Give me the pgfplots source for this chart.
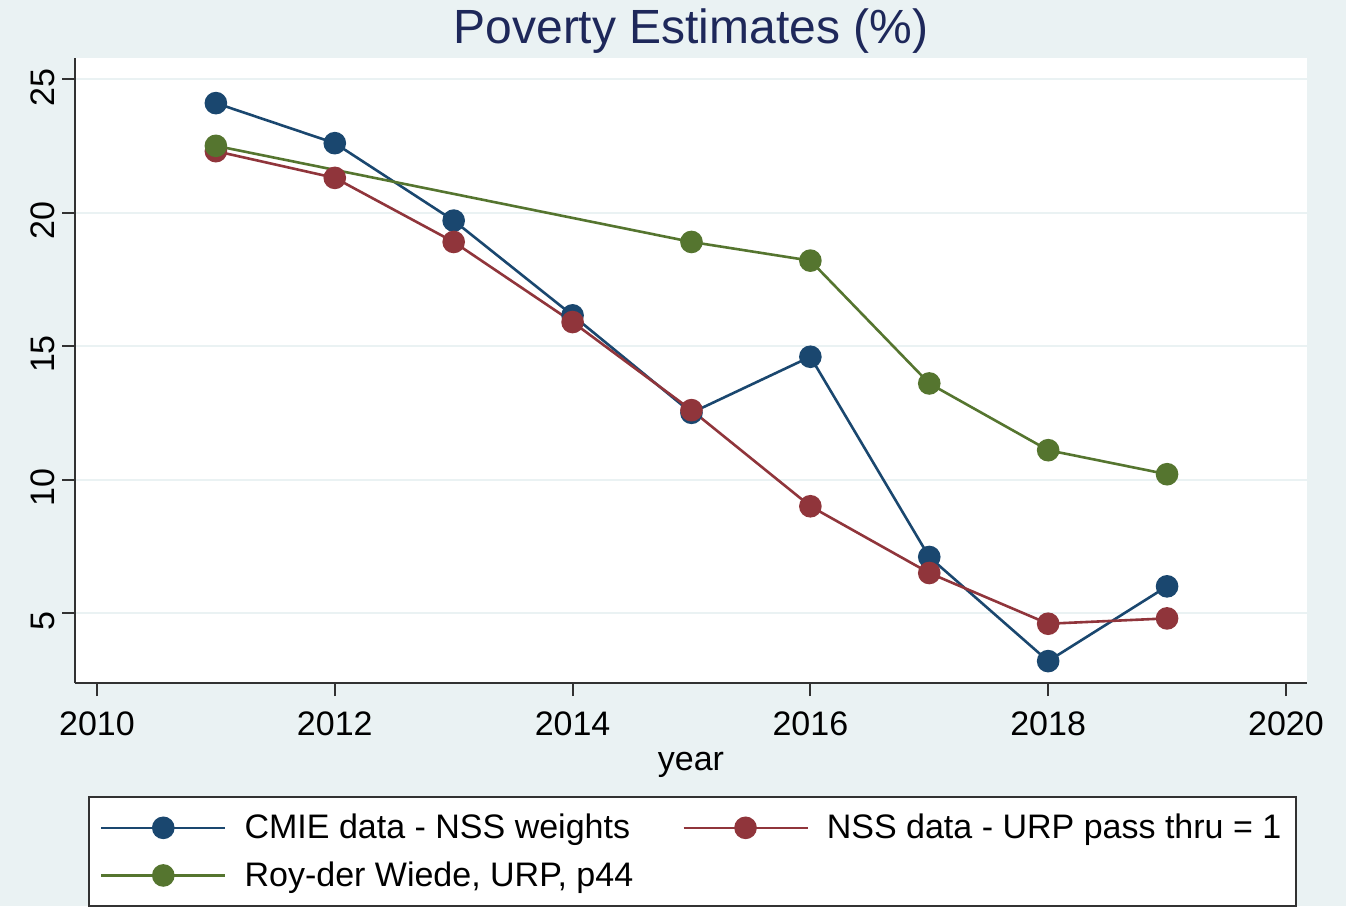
\documentclass[border=0pt]{standalone}
\usepackage{fontspec}
\setmainfont{Liberation Sans}
\usepackage{pgfplots}
\pgfplotsset{compat=1.18}

\definecolor{bgc}{RGB}{234,242,243}
\definecolor{stnavy}{RGB}{26,71,111}
\definecolor{stmaroon}{RGB}{144,53,59}
\definecolor{stgreen}{RGB}{85,117,47}
\definecolor{titlec}{RGB}{30,40,90}
\definecolor{axc}{RGB}{50,50,50}

\begin{document}
\begin{tikzpicture}
% page background (1px = 0.5pt)
\fill[bgc] (0pt,0pt) rectangle (673pt,-453pt);
\begin{axis}[
    at={(37.5pt,-341.5pt)}, anchor=south west,
    scale only axis,
    width=616pt, height=312.5pt,
    xmin=2009.815, xmax=2020.177,
    ymin=2.38, ymax=25.79,
    axis background/.style={fill=white},
    axis x line*=bottom, axis y line*=left,
    axis line style={axc, line width=1pt},
    xtick={2010,2012,...,2020},
    ytick={5,10,...,25},
    tick align=outside,
    major tick length=6.5pt,
    tick style={axc, line width=1pt},
    /pgf/number format/1000 sep={},
    /pgf/number format/assume math mode=true,
    ticklabel style={font=\fontsize{17}{20}\selectfont, black},
    yticklabel style={rotate=90, anchor=south, xshift=-4pt},
    xticklabel style={yshift=-4.5pt},
    ymajorgrids,
    grid style={bgc, line width=1pt},
    title={Poverty Estimates (\%)},
    title style={font=\fontsize{24}{28}\selectfont, color=titlec,
        at={(axis description cs:0.5,1)}, anchor=center, yshift=7.5pt},
    xlabel={year},
    xlabel style={font=\fontsize{17}{20}\selectfont, black,
        at={(axis description cs:0.5,0)}, anchor=center, yshift=-41pt},
    legend columns=2,
    legend cell align=left,
    legend image code/.code={
        \draw[mark repeat=2, mark phase=2, #1]
            plot coordinates {(0pt,0pt) (31pt,0pt) (62pt,0pt)};
    },
    legend style={
        at={(axis description cs:0.01055,-0.1808)}, anchor=north west,
        draw=axc, line width=1pt, fill=white,
        font=\fontsize{17}{20}\selectfont,
        inner xsep=5.5pt, inner ysep=6.5pt,
        row sep=6pt,
        /tikz/every odd column/.append style={column sep=7pt},
        /tikz/every even column/.append style={column sep=22.5pt},
    },
]
\addplot[stnavy, line width=1.3pt, mark=*, mark size=5pt,
    mark options={solid, fill=stnavy, draw=stnavy}] coordinates {
    (2011,24.1) (2012,22.6) (2013,19.7) (2014,16.15) (2015,12.5)
    (2016,14.6) (2017,7.1) (2018,3.2) (2019,6.0)
};
\addlegendentry{CMIE data - NSS weights}

\addplot[stmaroon, line width=1.3pt, mark=*, mark size=5pt,
    mark options={solid, fill=stmaroon, draw=stmaroon}] coordinates {
    (2011,22.3) (2012,21.3) (2013,18.9) (2014,15.9) (2015,12.6)
    (2016,9.0) (2017,6.5) (2018,4.6) (2019,4.8)
};
\addlegendentry{NSS data - URP pass thru = 1}

\addplot[stgreen, line width=1.3pt, mark=*, mark size=5pt,
    mark options={solid, fill=stgreen, draw=stgreen}] coordinates {
    (2011,22.5) (2015,18.9) (2016,18.2) (2017,13.6) (2018,11.1) (2019,10.2)
};
\addlegendentry{Roy-der Wiede, URP, p44}
\end{axis}
\end{tikzpicture}
\end{document}
